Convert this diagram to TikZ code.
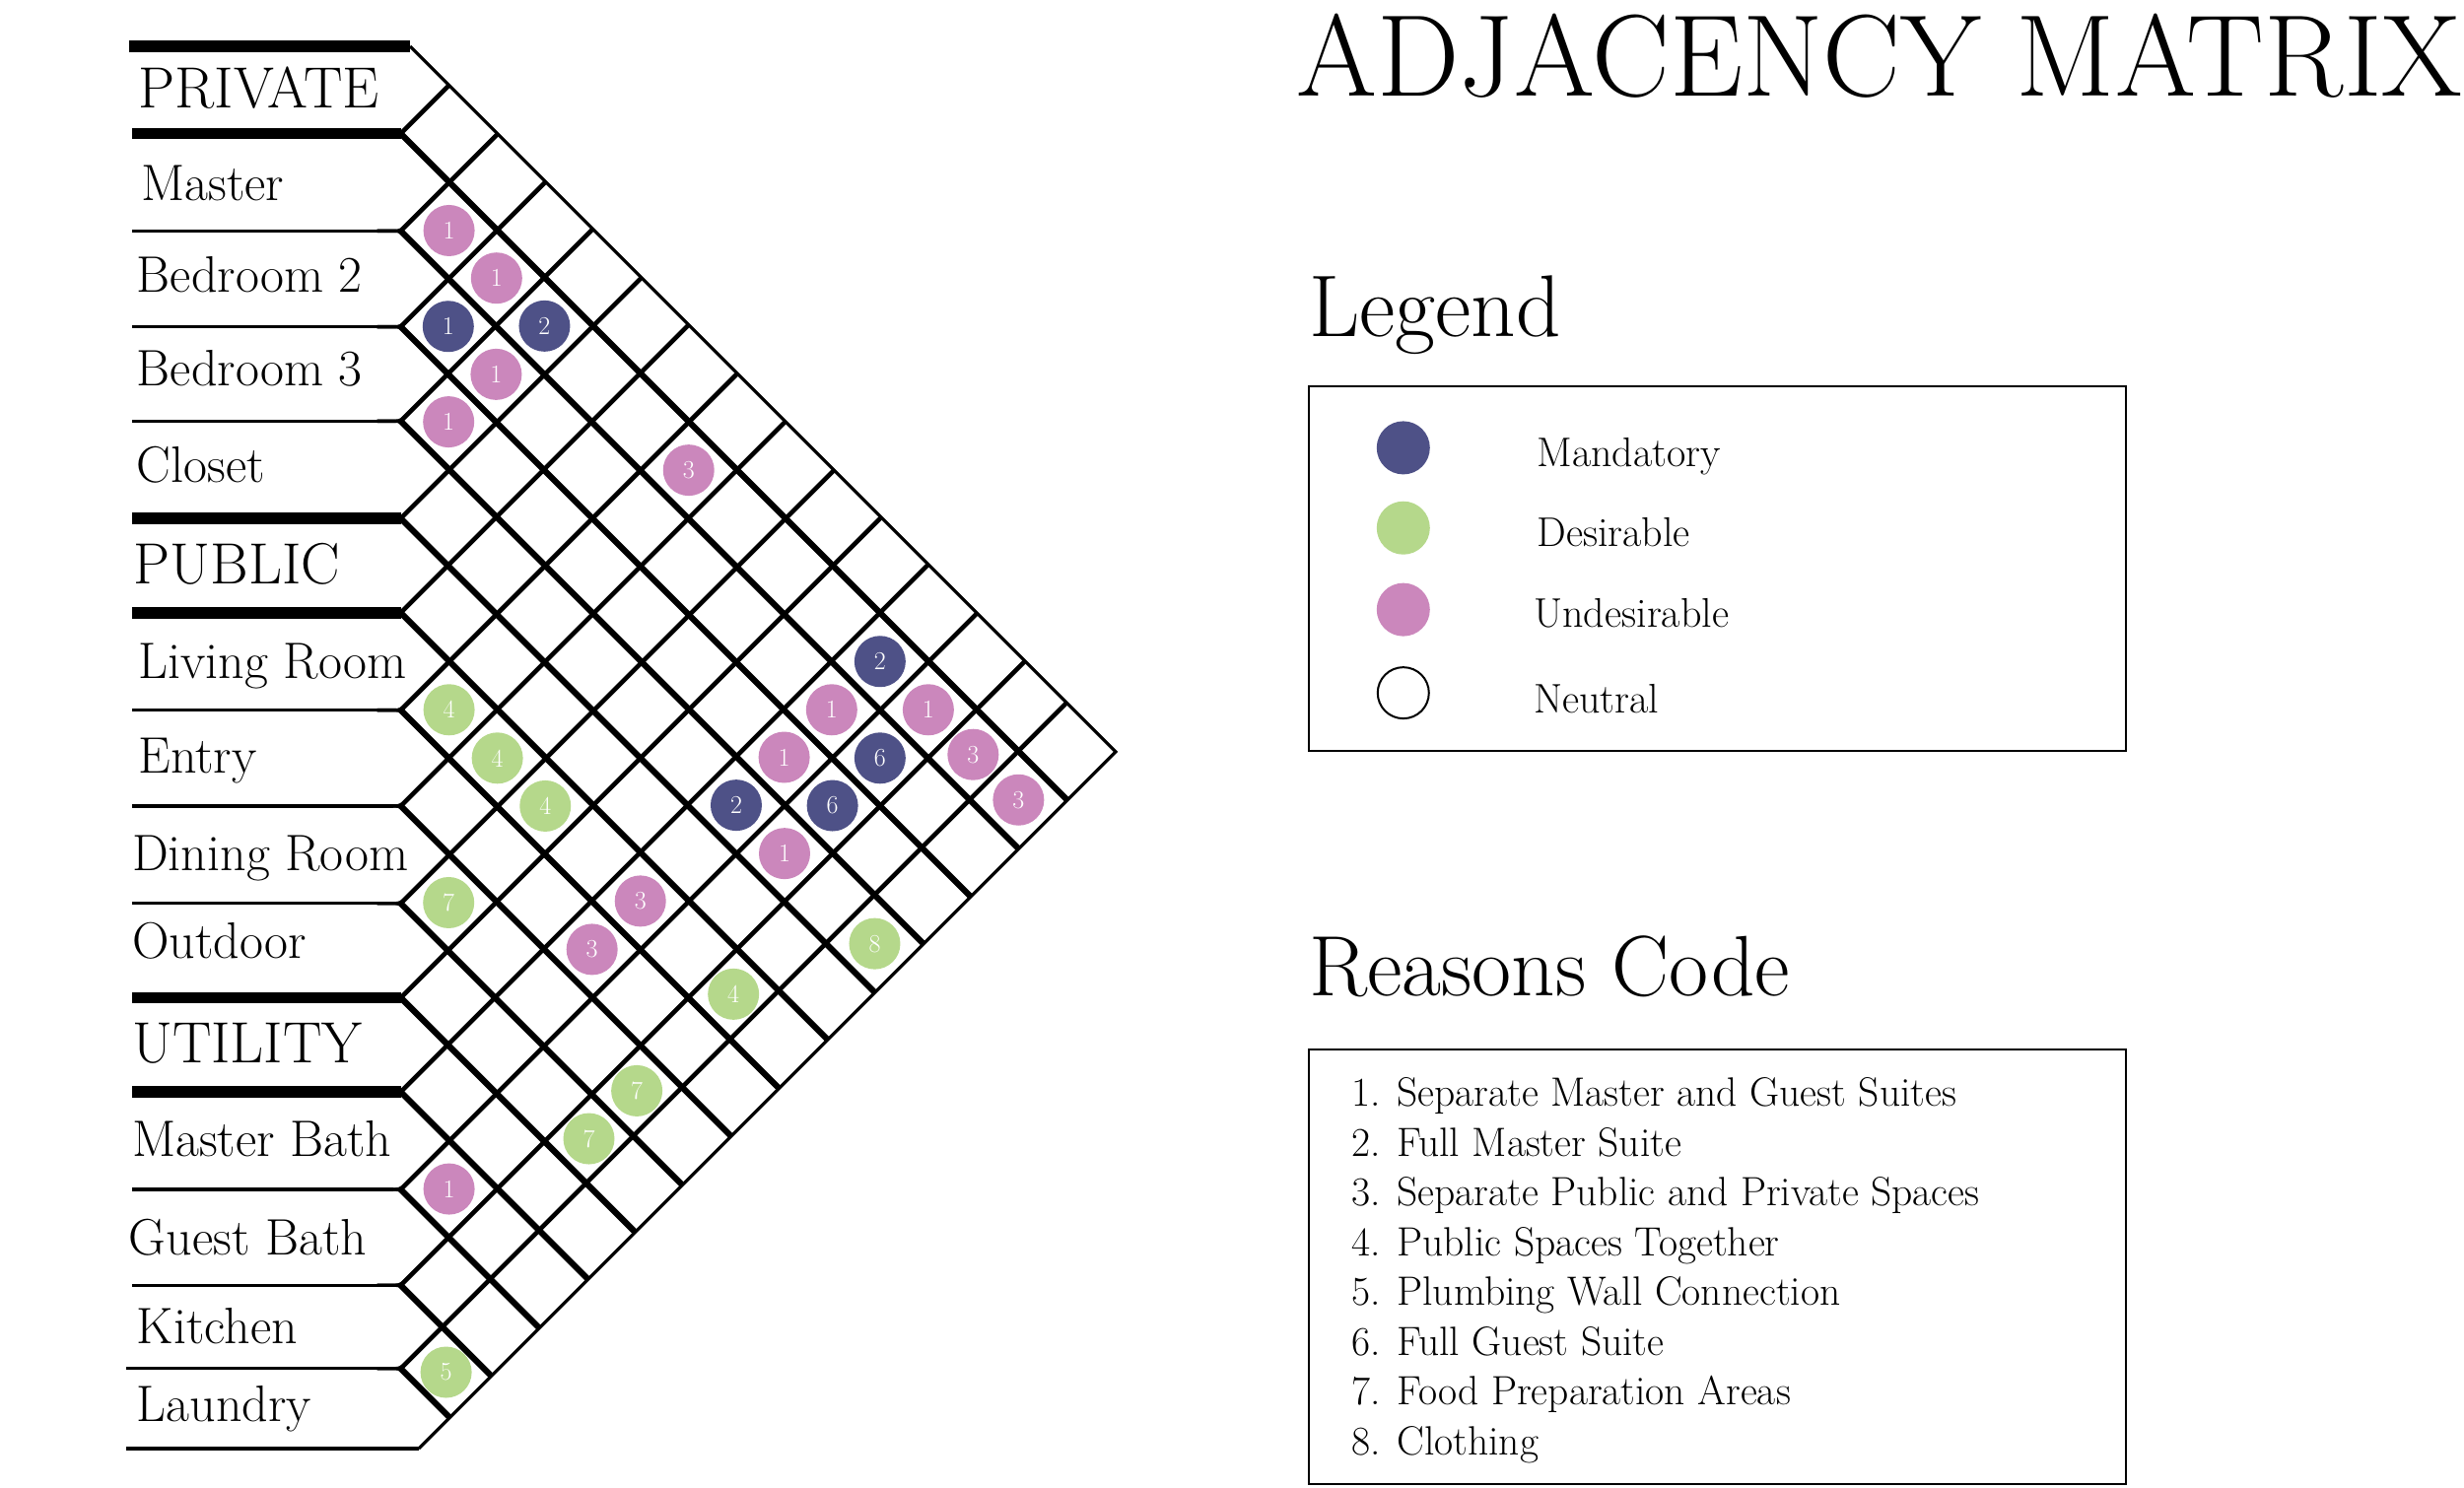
\documentclass[tikz,border=0pt]{standalone}
\usepackage{fontspec}
\definecolor{mandc}{HTML}{4E5187}
\definecolor{desc}{HTML}{B5D88B}
\definecolor{undc}{HTML}{CB87BC}
\newcommand{\SetFS}[1]{\fontsize{#1}{#1}\selectfont}
\def\Lvals{{23.5,85,147,208,268,330,390,452,513,575,635,695,757,818,871,933.5}}
\newcommand{\cellpos}[2]{%
  \pgfmathtruncatemacro{\ia}{#1-1}%
  \pgfmathtruncatemacro{\ja}{#2-1}%
  \pgfmathsetmacro{\Ai}{\Lvals[#1]}%
  \pgfmathsetmacro{\Aia}{\Lvals[\ia]}%
  \pgfmathsetmacro{\Aj}{\Lvals[#2]}%
  \pgfmathsetmacro{\Aja}{\Lvals[\ja]}%
  \pgfmathsetmacro{\cx}{255+(\Aj+\Aja-\Ai-\Aia)/4}%
  \pgfmathsetmacro{\cy}{(\Aj+\Aja+\Ai+\Aia)/4}}
\begin{document}
\begin{tikzpicture}[x=1.5944pt,y=-1.5944pt,
  rowlabel/.style={anchor=base west, inner sep=0pt, font=\SetFS{52}},
  grouplabel/.style={anchor=base west, inner sep=0pt, font=\SetFS{59}},
  grpbar/.style={line width=11.5pt},
  rowrule/.style={line width=3.4pt},
  edgeline/.style={line width=3.2pt, line join=miter},
  drline/.style={line width=6.2pt},
  urline/.style={line width=4.6pt},
  dot/.style={circle, minimum size=52pt, inner sep=0pt, text=white, font=\SetFS{26}},
  cellM/.style={dot, fill=mandc},
  cellD/.style={dot, fill=desc},
  cellU/.style={dot, fill=undc},
  legenddot/.style={circle, minimum size=54pt, inner sep=0pt},
  keytext/.style={anchor=base west, inner sep=0pt, font=\SetFS{42}},
  reasontext/.style={anchor=base west, inner sep=0pt, font=\SetFS{41.5}},
  boxframe/.style={line width=2.2pt},
  headtext/.style={anchor=base west, inner sep=0pt, font=\SetFS{89}}
]
\useasboundingbox (0,0) rectangle (1568,946.45);

% ---- row rules with small fillets into the lattice
\foreach \k in {2,3,4,7,8,9,12,13} {
  \pgfmathsetmacro{\Lk}{\Lvals[\k]}
  \draw[rowrule] (84,\Lk) -- (250,\Lk);
  \draw[rowrule, rounded corners=5pt] (240,\Lk) -- (255,\Lk) -- (263,\Lk+8);
  \draw[rowrule, rounded corners=5pt] (240,\Lk) -- (255,\Lk) -- (263,\Lk-8);
}
\draw[rowrule] (80.4,871) -- (250,871);
\draw[rowrule, rounded corners=5pt] (240,871) -- (255,871) -- (263,879);
\draw[rowrule, rounded corners=5pt] (240,871) -- (255,871) -- (263,863);
\draw[rowrule] (80.4,922) -- (266.5,922);

% ---- group bars
\draw[grpbar] (82,29.5) -- (261,29.5);
\foreach \k in {1,5,6,10,11} {
  \pgfmathsetmacro{\Lk}{\Lvals[\k]}
  \draw[grpbar] (84,\Lk) -- (255,\Lk);
}

% ---- lattice
\begin{scope}
  \clip (100,-131.5) -- (710,478.5) -- (100,1088.5) -- cycle;
  \foreach \k in {1,...,14} {
    \pgfmathsetmacro{\Lk}{\Lvals[\k]}
    \draw[urline] (255,\Lk) -- ++(520,-520);
    \draw[drline] (255,\Lk) -- ++(520,520);
  }
\end{scope}
\draw[edgeline] (261,29.5) -- (710,478.5) -- (266.5,922);

% ---- row labels
\node[grouplabel] (hPriv) at (88,68.5) {PRIVATE};
\node[rowlabel] (rMaster) at (90,127.5) {Master};
\node[rowlabel] (rBedA) at (87,186) {Bedroom 2};
\node[rowlabel] (rBedB) at (87,245.6) {Bedroom 3};
\node[rowlabel] (rCloset) at (87,307.3) {Closet};
\node[grouplabel] (hPub) at (85,371.5) {PUBLIC};
\node[rowlabel] (rLiving) at (88,432) {Living Room};
\node[rowlabel] (rEntry) at (88,492) {Entry};
\node[rowlabel] (rDining) at (84,554) {Dining Room};
\node[rowlabel] (rOutdoor) at (84,610) {Outdoor};
\node[grouplabel] (hUtil) at (84,676.5) {UTILITY};
\node[rowlabel] (rMBath) at (84,736) {Master Bath};
\node[rowlabel] (rGBath) at (82,798.6) {Guest Bath};
\node[rowlabel] (rKitchen) at (87,855) {Kitchen};
\node[rowlabel] (rLaundry) at (87,905) {Laundry};

% ---- matrix entries
\foreach \i/\j/\s/\n [count=\c] in {
  2/3/cellU/1, 2/4/cellU/1, 3/4/cellM/1, 2/5/cellM/2, 3/5/cellU/1, 4/5/cellU/1,
  2/8/cellU/3, 2/12/cellM/2, 3/12/cellU/1, 2/13/cellU/1, 4/12/cellU/1,
  3/13/cellM/6, 2/14/cellU/3, 5/12/cellM/2, 4/13/cellM/6, 2/15/cellU/3,
  5/13/cellU/1, 7/8/cellD/4, 7/9/cellD/4, 7/10/cellD/4, 9/10/cellD/7,
  7/12/cellU/3, 8/12/cellU/3, 5/15/cellD/8, 7/14/cellD/4, 9/14/cellD/7,
  10/14/cellD/7, 12/13/cellU/1, 14/15/cellD/5} {
  \cellpos{\i}{\j}
  \node[\s] (m\c) at (\cx,\cy) {\n};
}

% ---- title
\node[anchor=base west, inner sep=0pt, font=\SetFS{118}] (title) at (825,61) {ADJACENCY MATRIX};

% ---- legend
\node[headtext] (legendtitle) at (833,214) {Legend};
\draw[boxframe] (833,246) rectangle (1353,478);
\node[legenddot, fill=mandc] (kM) at (893,285) {};
\node[legenddot, fill=desc] (kD) at (893,336) {};
\node[legenddot, fill=undc] (kU) at (893,388) {};
\node[legenddot, minimum size=52pt, draw=black, line width=2pt, fill=white] (kN) at (893,441) {};
\node[keytext] (tM) at (978,297) {Mandatory};
\node[keytext] (tD) at (978,348) {Desirable};
\node[keytext] (tU) at (976,399) {Undesirable};
\node[keytext] (tN) at (976,454) {Neutral};

% ---- reasons
\node[headtext, font=\SetFS{87}] (reasonstitle) at (833,634) {Reasons Code};
\draw[boxframe] (833,668) rectangle (1353,944.5);
\foreach \t [count=\n] in {Separate Master and Guest Suites, Full Master Suite,
  Separate Public and Private Spaces, Public Spaces Together,
  Plumbing Wall Connection, Full Guest Suite, Food Preparation Areas, Clothing} {
  \node[reasontext] (reason\n) at (860,{704+(\n-1)*31.7}) {\n. \t};
}
\end{tikzpicture}
\end{document}
